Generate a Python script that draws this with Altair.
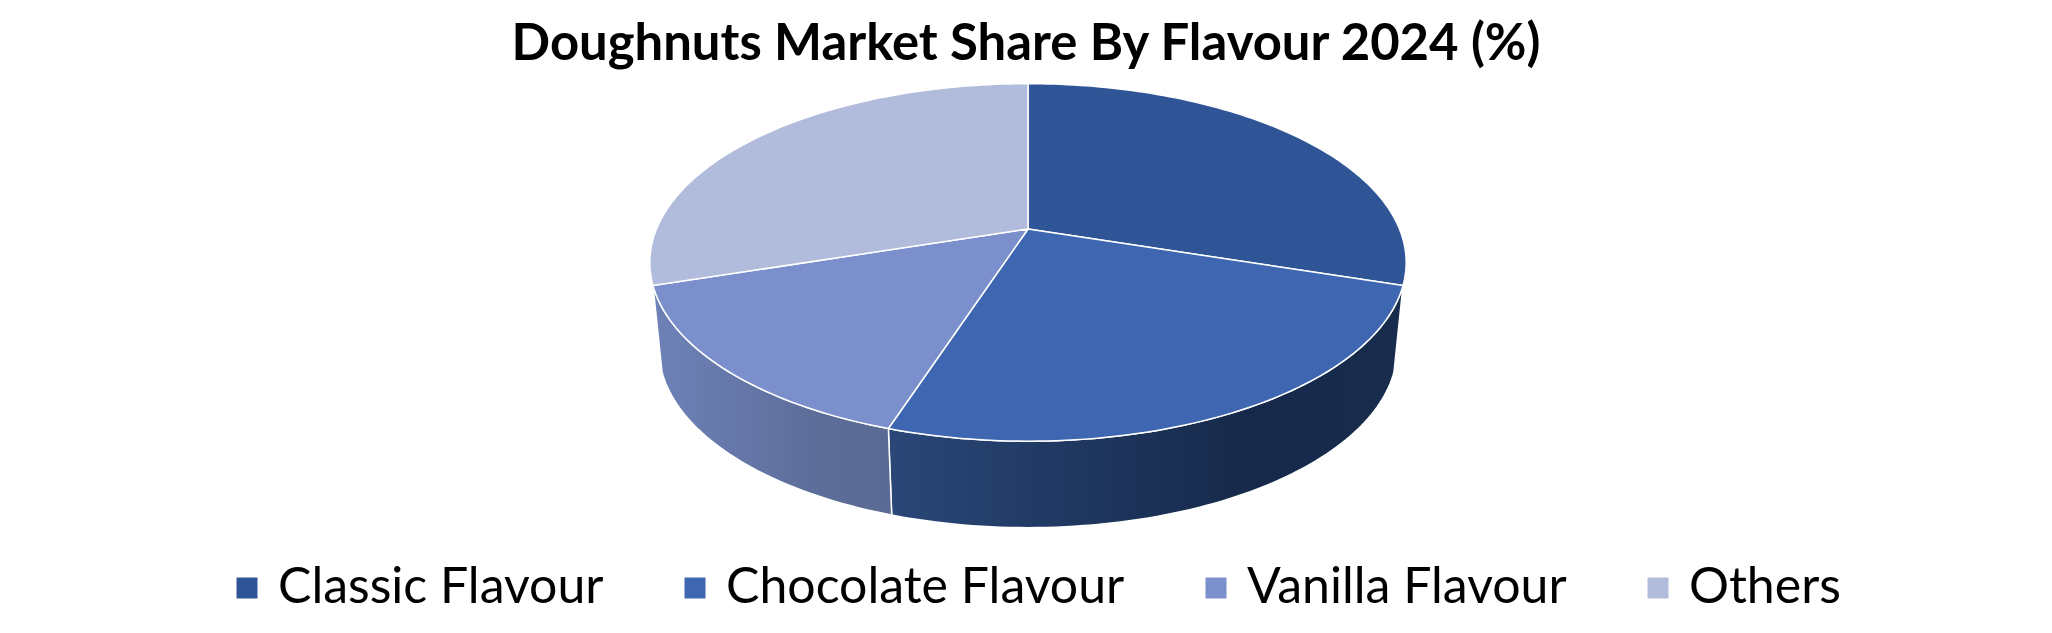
import math
import altair as alt
import pandas as pd

title = "Doughnuts Market Share By Flavour 2024 (%)"
categories = ["Classic Flavour", "Chocolate Flavour", "Vanilla Flavour", "Others"]
shares = [30, 25, 15, 30]
colors = ["#2F5597", "#3F67B1", "#7A8FCB", "#B1BBDC"]
# visible outer walls: (slice, left colour, middle colour, right colour)
wall_fills = {
    "Chocolate Flavour": ["#2A4778", "#16294A", "#182C4E"],
    "Vanilla Flavour": ["#6F82B8", "#5C6D99", "#5A6A94"],
}

W, H = 2036, 617
CX, CY = 1020.0, 221.0   # apex of the pie in plot units
RX, RY, TILT = 371.5, 172.5, 0.187
WALL_DROP, WALL_SHRINK = 86.5, 0.976


def rim(deg, wall=False):
    t = math.radians(deg)
    u, v = math.sin(t), math.cos(t)
    d = 1 + TILT * v
    x = RX * u / d
    y = -RY * v / d
    if wall:
        return CX + x * WALL_SHRINK, CY + y + WALL_DROP
    return CX + x, CY + y


rows = []
start = 0.0
for name, share in zip(categories, shares):
    end = start + share * 3.6
    n = max(2, int(share * 3))
    arc = [start + (end - start) * i / n for i in range(n + 1)]
    pts = [(CX, CY)] + [rim(a) for a in arc] + [(CX, CY)]
    rows += [dict(part="top", slice=name, i=i, x=p[0], y=p[1]) for i, p in enumerate(pts)]
    if name in wall_fills:
        w = [rim(a) for a in arc] + [rim(a, True) for a in reversed(arc)]
        w.append(w[0])
        rows += [dict(part="wall", slice=name, i=i, x=p[0], y=p[1]) for i, p in enumerate(w)]
    start = end

df = pd.DataFrame(rows)
xs = alt.X("x:Q", scale=alt.Scale(domain=[0, W], nice=False, zero=False), axis=None)
ys = alt.Y("y:Q", scale=alt.Scale(domain=[H, 0], nice=False, zero=False), axis=None)

layers = []
for name, c in wall_fills.items():
    grad = alt.LinearGradient(
        gradient="linear", x1=0, x2=1, y1=0, y2=0,
        stops=[alt.GradientStop(offset=0, color=c[0]),
               alt.GradientStop(offset=0.7, color=c[1]),
               alt.GradientStop(offset=1, color=c[2])],
    )
    layers.append(
        alt.Chart(df[(df.part == "wall") & (df.slice == name)])
        .mark_line(fill=grad, stroke="white", strokeWidth=1.5, strokeJoin="round")
        .encode(x=xs, y=ys, order="i:Q")
    )

top = (
    alt.Chart(df[df.part == "top"])
    .mark_line(stroke="white", strokeWidth=1.5, strokeJoin="round")
    .encode(
        x=xs, y=ys, order="i:Q",
        fill=alt.Fill(
            "slice:N",
            scale=alt.Scale(domain=categories, range=colors),
            sort=categories,
            legend=alt.Legend(
                title=None, orient="none", legendX=214, legendY=555, direction="horizontal",
                columns=4, symbolType="square", symbolSize=440, symbolStrokeWidth=0,
                labelFont="Lato", labelFontSize=50, labelColor="black", labelLimit=500,
                labelOffset=6, columnPadding=66, gridAlign="each",
            ),
        ),
    )
)

chart = (
    alt.layer(*layers, top)
    .properties(
        width=W, height=H, padding=0, autosize=alt.AutoSizeParams(type="none"),
        title=alt.TitleParams(
            title, anchor="middle", frame="group", font="Lato", fontWeight="bold",
            fontSize=50.8, color="black", baseline="alphabetic", dy=107,
        ),
    )
    .configure_view(stroke=None)
)
chart.save("out.html", embed_options={"renderer": "svg", "actions": False})
